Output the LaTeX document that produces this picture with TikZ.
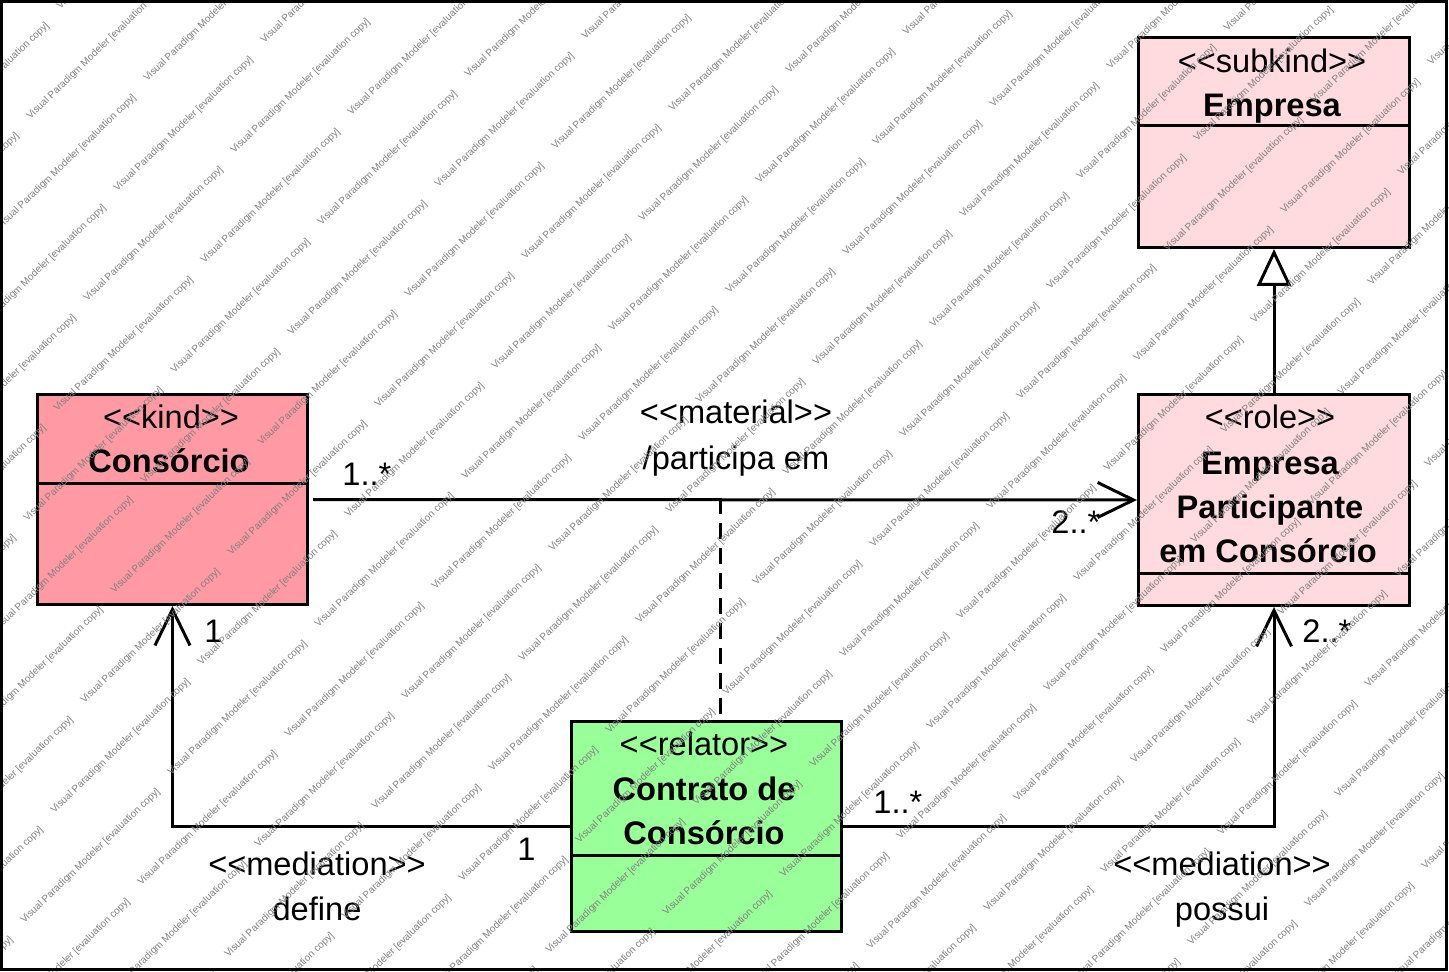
\documentclass[tikz,border=0pt]{standalone}
\usepackage{fontspec}
\setmainfont{Liberation Sans}
\usetikzlibrary{arrows.meta}

\definecolor{kindpink}{RGB}{255,153,163}
\definecolor{rolepink}{RGB}{255,218,222}
\definecolor{relgreen}{RGB}{153,255,153}

% keep << and >> from turning into guillemets
\newcommand{\stereo}[1]{<\kern0pt<#1>\kern0pt>}

\tikzset{
  classbox/.style={draw, line width=1.5pt, anchor=north west, inner sep=0pt, minimum width=135.5pt, minimum height=105pt},
  umltext/.style={anchor=base, inner sep=0pt, font=\fontsize{16.3}{19}\selectfont},
  umlname/.style={anchor=base, inner sep=0pt, font=\fontsize{16.3}{19}\selectfont\bfseries},
  multtext/.style={anchor=base west, inner sep=0pt, font=\fontsize{16.3}{19}\selectfont},
  assoc/.style={line width=1.5pt, -{Straight Barb[length=18pt, width=17.5pt]}},
  generalization/.style={line width=1.5pt, -{Triangle[open, length=18.5pt, width=17pt]}},
  watermark/.style={anchor=base west, inner sep=0pt, rotate=44, text=black!50, font=\fontsize{5}{6}\selectfont}
}

\begin{document}
\begin{tikzpicture}[x=0.5pt,y=0.5pt,yscale=-1]
\useasboundingbox (0,0) rectangle (1449,972);

%Shape: Rectangle [Empresa]
\node (empresa) [classbox, fill=rolepink] at (1137,36) {};
\draw [line width=1.5pt] (empresa.west |- 0,126) -- (empresa.east |- 0,126);
%Shape: Rectangle [Empresa Participante]
\node (participante) [classbox, fill=rolepink, minimum height=105.5pt] at (1137,393) {};
\draw [line width=1.5pt] (participante.west |- 0,573) -- (participante.east |- 0,573);
%Shape: Rectangle [Consorcio]
\node (consorcio) [classbox, fill=kindpink, minimum width=135pt] at (36,393) {};
\draw [line width=1.5pt] (consorcio.west |- 0,483) -- (consorcio.east |- 0,483);
%Shape: Rectangle [Contrato]
\node (contrato) [classbox, fill=relgreen, minimum width=135pt] at (570,720) {};
\draw [line width=1.5pt] (contrato.west |- 0,855) -- (contrato.east |- 0,855);

%Straight Lines
\draw [generalization] (participante.north) -- (empresa.south);
\draw [assoc, shorten <=2pt] (consorcio.east) -- (participante.west);
\coordinate (matmid) at (720,498);
\draw [line width=1.5pt, dash pattern=on 8pt off 4.5pt] (matmid) -- (matmid |- contrato.north);
\draw [assoc] (contrato.west) -| (consorcio.south);
\draw [assoc] (contrato.east) -| (participante.south);

% Text Node
\node (empresa-st) [umltext] at (1272,73) {\stereo{subkind}};
\node (empresa-name) [umlname] at (1272,117) {Empresa};
% Text Node
\node (participante-st) [umltext] at (1270,429) {\stereo{role}};
\node (participante-l1) [umlname] at (1270,474) {Empresa};
\node (participante-l2) [umlname] at (1270,518) {Participante};
\node (participante-l3) [umlname] at (1268,562) {em Consórcio};
% Text Node
\node (consorcio-st) [umltext] at (171,429) {\stereo{kind}};
\node (consorcio-name) [umlname] at (169,473) {Consórcio};
% Text Node
\node (contrato-st) [umltext] at (704,755) {\stereo{relator}};
\node (contrato-l1) [umlname] at (704,800) {Contrato de};
\node (contrato-l2) [umlname] at (704,844) {Consórcio};
% Text Node
\node (material-st) [umltext] at (736,423) {\stereo{material}};
\node (material-name) [umltext] at (736,469) {/participa em};
\node (define-st) [umltext] at (317,875) {\stereo{mediation}};
\node (define-name) [umltext] at (317,920) {define};
\node (possui-st) [umltext] at (1222,875) {\stereo{mediation}};
\node (possui-name) [umltext] at (1222,920) {possui};
% Text Node
\node (mult-a) [multtext] at (342,485) {1..*};
\node (mult-b) [multtext] at (1051,533) {2..*};
\node (mult-c) [multtext] at (204,642) {1};
\node (mult-d) [multtext] at (1302,642) {2..*};
\node (mult-e) [multtext] at (873,813) {1..*};
\node (mult-f) [multtext] at (517,860) {1};

% watermark
\begin{scope}
\clip (0,0) rectangle (1449,972);
\foreach \m in {-3,...,16}
  \foreach \n in {-4,...,13}
    \node (wm-\m-\n) [watermark] at ({117*\m-30*\n},{230-38*\m+110*\n}) {Visual Paradigm Modeler [evaluation copy]};
\end{scope}

%Shape: Rectangle [frame]
\draw [line width=1.5pt] (1.5,1.5) rectangle (1446.5,969.5);

\end{tikzpicture}
\end{document}
